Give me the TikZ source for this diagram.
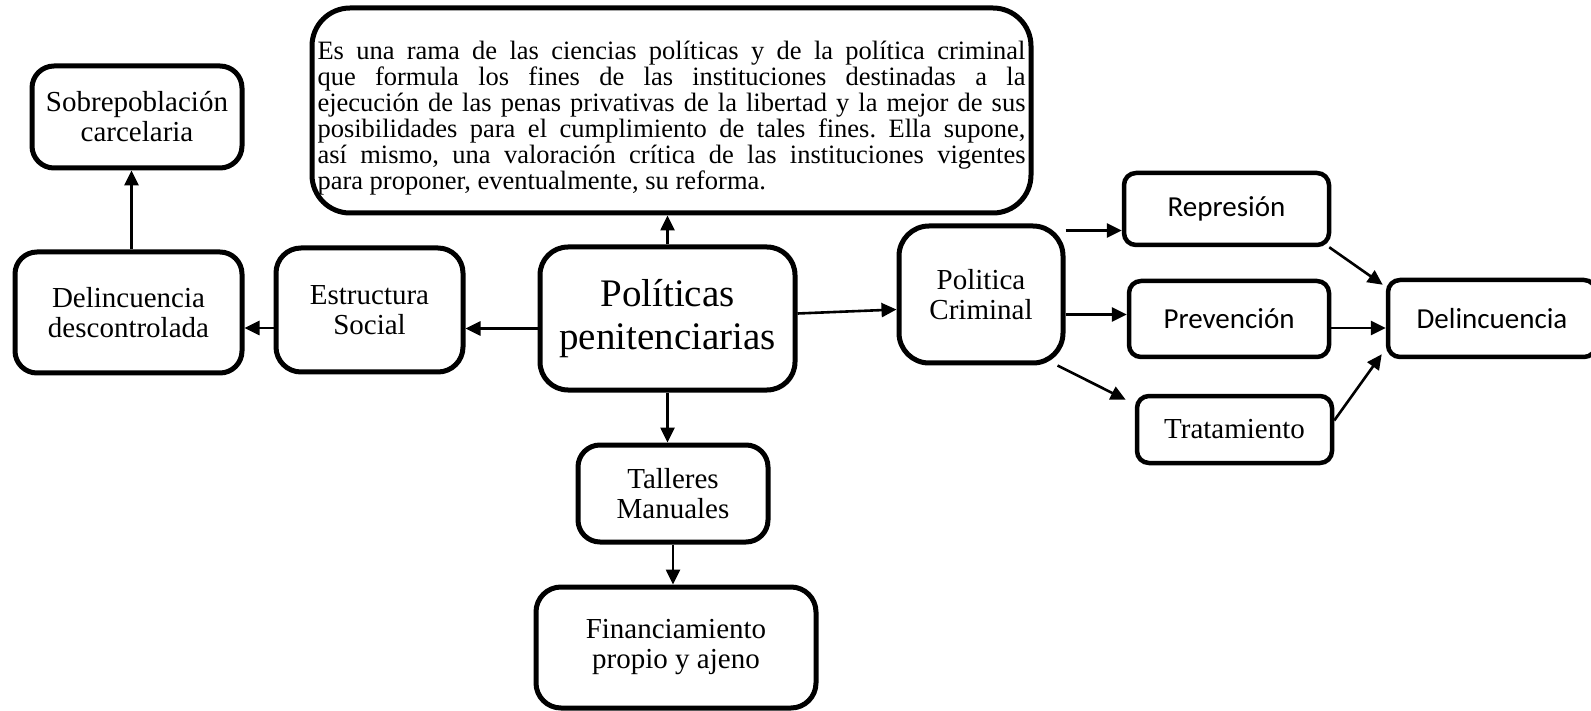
\documentclass[tikz,border=0pt]{standalone}
\usepackage{fontspec}
\setmainfont{Liberation Serif}
\newfontfamily\sanscal{Carlito}
\usetikzlibrary{arrows.meta}
\frenchspacing

\tikzset{
  caja/.style={draw, line width=5pt, rounded corners=22pt, align=center, inner sep=0pt,
    font=\fontsize{29}{30}\selectfont},
  cajasans/.style={caja, line width=4.5pt, rounded corners=12pt, font=\sanscal\fontsize{29}{30}\selectfont},
  flecha/.style={-{Triangle[length=15pt,width=14pt]}, line width=2.6pt},
}

\begin{document}
\begin{tikzpicture}[x=1pt,y=-1pt]
  %%%%% START %%%%%
  \useasboundingbox[fill=white] (0,0) rectangle (1591,711);

  % cajas
  \node[caja, rounded corners=38pt, minimum width=719pt, minimum height=205pt, text width=708pt,
    align=justify, font=\fontsize{26.5}{26}\selectfont] (definicion) at (671.5,110.5)
    {\rule{0pt}{34pt}Es una rama de las ciencias políticas y de la política criminal\linebreak
     que formula los fines de las instituciones destinadas a la\linebreak
     ejecución de las penas privativas de la libertad y la mejor de sus\linebreak
     posibilidades para el cumplimiento de tales fines. Ella supone,\linebreak
     así mismo, una valoración crítica de las instituciones vigentes\linebreak
     para proponer, eventualmente, su reforma.};

  \node[caja, minimum width=210pt, minimum height=102pt] (sobre) at (137,117) {Sobrepoblación\\carcelaria};
  \node[caja, minimum width=227pt, minimum height=121pt] (descontrol) at (128.5,312.5) {Delincuencia\\descontrolada};
  \node[caja, rounded corners=25pt, minimum width=187pt, minimum height=124pt] (estructura) at (369.5,310) {Estructura\\Social};
  \node[caja, rounded corners=28pt, minimum width=255pt, minimum height=143pt,
    font=\fontsize{39}{43}\selectfont] (politicas) at (667.5,318.5) {Políticas\\penitenciarias};
  \node[caja, minimum width=190pt, minimum height=97pt] (talleres) at (673,493.5) {Talleres\\Manuales};
  \node[caja, rounded corners=25pt, minimum width=280pt, minimum height=121pt] (financia) at (676,647.5) {Financiamiento\\propio y ajeno};
  \node[caja, rounded corners=30pt, minimum width=164pt, minimum height=137pt] (criminal) at (981,294.5) {Politica\\Criminal};

  \node[cajasans, minimum width=205pt, minimum height=72pt] (represion) at (1226.5,209) {Represión};
  \node[cajasans, minimum width=200pt, minimum height=76pt] (prevencion) at (1229,319) {Prevención};
  \node[caja, rounded corners=12pt, line width=4.5pt, minimum width=195pt, minimum height=67pt] (tratamiento) at (1234.5,429.5) {Tratamiento};
  \node[cajasans, minimum width=208pt, minimum height=77pt] (delincuencia) at (1492,318.5) {Delincuencia};

  % flechas
  \draw[flecha] (politicas.north) -- (politicas.north |- definicion.south);
  \draw[flecha] (politicas.south) -- (politicas.south |- talleres.north);
  \draw[flecha] (talleres.south) -- (talleres.south |- financia.north);
  \draw[flecha] ([yshift=-10pt]politicas.west) -- ([yshift=-10pt]politicas.west -| estructura.east);
  \draw[flecha] ([yshift=-18pt]estructura.west) -- ([yshift=-18pt]estructura.west -| descontrol.east);
  \draw[flecha] ([xshift=3pt]descontrol.north) -- ([xshift=3pt]descontrol.north |- sobre.south);
  \draw[flecha] ([yshift=5pt]politicas.east) -- ([yshift=-15pt]criminal.west);

  \draw[flecha] ([yshift=-7pt]criminal.north east) -- ([yshift=-7pt]criminal.north east -| represion.west);
  \draw[flecha] ([yshift=-20pt]criminal.east) -- ([yshift=-20pt]criminal.east -| prevencion.west);
  \draw[flecha] ([xshift=-8pt]criminal.south east) -- ([xshift=-9pt,yshift=-6pt]tratamiento.north west);

  \draw[flecha] ([xshift=-2pt]represion.south east) -- ([xshift=-3pt,yshift=-7pt]delincuencia.north west);
  \draw[flecha] ([yshift=-9pt]prevencion.east) -- ([yshift=-9pt]prevencion.east -| delincuencia.west);
  \draw[flecha] ([yshift=9pt]tratamiento.east) -- ([xshift=-4pt,yshift=5pt]delincuencia.south west);
  %%%%% END %%%%%
\end{tikzpicture}
\end{document}
